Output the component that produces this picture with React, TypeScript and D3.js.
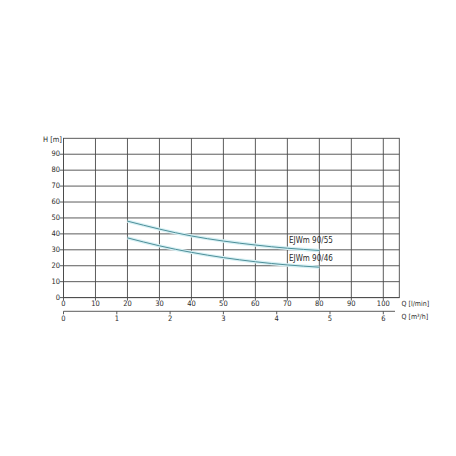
import React from "react";
import * as d3 from "d3";

const qLmin = [20, 30, 40, 50, 60, 70, 80];
const h9055 = [48, 43, 38.7, 35.5, 33, 31, 29.6];
const h9046 = [37.5, 32.5, 28.4, 25.1, 22.5, 20.5, 19.1];
const seriesNames = ["EJWm 90/55", "EJWm 90/46"];
const xTicks = [0, 10, 20, 30, 40, 50, 60, 70, 80, 90, 100];
const yTicks = [0, 10, 20, 30, 40, 50, 60, 70, 80, 90];
const m3hTicks = [0, 1, 2, 3, 4, 5, 6];

const FONT = "'DejaVu Sans Condensed', 'Liberation Sans Narrow', 'DejaVu Sans', sans-serif";

export default function App() {
  const x = d3.scaleLinear().domain([0, 105]).range([63.5, 399.3]);
  const y = d3.scaleLinear().domain([0, 100]).range([297.6, 138.3]);
  const xm = (v: number) => x((v * 1000) / 60);
  const grid = "#4a4a4a";
  const txt = "#2a2a2a";
  const line = d3
    .line<[number, number]>()
    .x((d) => x(d[0]))
    .y((d) => y(d[1]))
    .curve(d3.curveNatural);
  const series = [h9055, h9046].map((hs) => hs.map((h, i) => [qLmin[i], h] as [number, number]));
  const x0 = x(0), x1 = x(105), y0 = y(0), y1 = y(100);
  const axis2Y = 311.3;
  return (
    <svg width={456} height={456} style={{ position: "absolute", left: 0, top: 0, background: "#fff" }}>
      <rect x={0} y={0} width={456} height={456} fill="#fff" />
      {xTicks.map((t) => (
        <line key={"vx" + t} x1={x(t)} x2={x(t)} y1={y1} y2={y0 + 3} stroke={grid} strokeWidth={0.9} />
      ))}
      {yTicks.map((t) => (
        <line key={"hy" + t} x1={x0 - 3.5} x2={x1} y1={y(t)} y2={y(t)} stroke={grid} strokeWidth={0.9} />
      ))}
      <rect x={x0} y={y1} width={x1 - x0} height={y0 - y1} fill="none" stroke={grid} strokeWidth={0.9} />
      {series.map((s, i) => (
        <g key={"s" + i}>
          <path d={line(s) || ""} fill="none" stroke="#d6f0f4" strokeWidth={3.4} />
          <path d={line(s) || ""} fill="none" stroke="#4e8f99" strokeWidth={1} />
        </g>
      ))}
      <text x={289} y={240.8} dominantBaseline="middle" fontFamily={FONT} fontSize={8} fill={txt}>{seriesNames[0]}</text>
      <text x={289} y={258.3} dominantBaseline="middle" fontFamily={FONT} fontSize={8} fill={txt}>{seriesNames[1]}</text>
      {yTicks.map((t) => (
        <text key={"yl" + t} x={x0 - 3.5} y={y(t)} textAnchor="end" dominantBaseline="middle" fontFamily={FONT} fontSize={7.5} fill={txt}>{t}</text>
      ))}
      <text x={62} y={140} textAnchor="end" dominantBaseline="middle" fontFamily={FONT} fontSize={7.5} fill={txt}>H [m]</text>
      {xTicks.map((t) => (
        <text key={"xl" + t} x={x(t)} y={304} textAnchor="middle" dominantBaseline="middle" fontFamily={FONT} fontSize={7.5} fill={txt}>{t}</text>
      ))}
      <text x={401.5} y={304.5} dominantBaseline="middle" fontFamily={FONT} fontSize={7} fill={txt}>Q [l/min]</text>
      <line x1={x0} x2={395} y1={axis2Y} y2={axis2Y} stroke={grid} strokeWidth={0.9} />
      {m3hTicks.map((t) => (
        <g key={"m" + t}>
          <line x1={xm(t)} x2={xm(t)} y1={axis2Y} y2={axis2Y + 3} stroke={grid} strokeWidth={0.9} />
          <text x={xm(t)} y={318.5} textAnchor="middle" dominantBaseline="middle" fontFamily={FONT} fontSize={7.5} fill={txt}>{t}</text>
        </g>
      ))}
      <text x={401.5} y={317.5} dominantBaseline="middle" fontFamily={FONT} fontSize={7} fill={txt}>Q [m³/h]</text>
    </svg>
  );
}
